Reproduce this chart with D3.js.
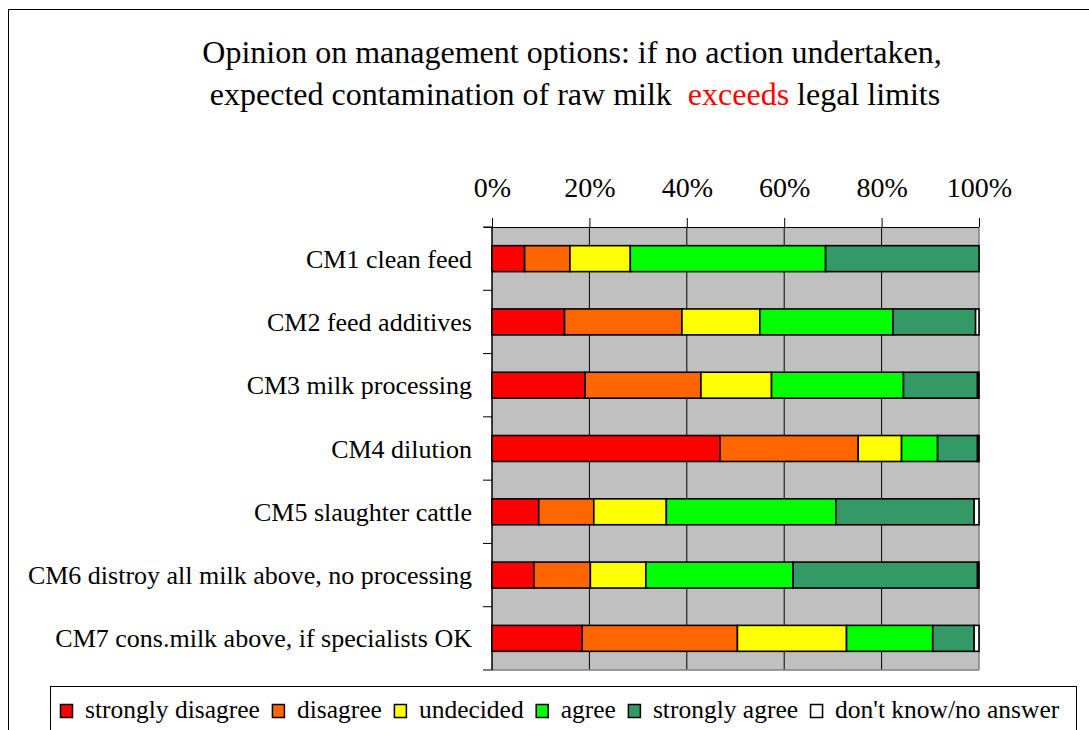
<!DOCTYPE html>
<html>
<head>
<meta charset="utf-8">
<script src="https://cdn.jsdelivr.net/npm/d3@7"></script>
<style>
  body { margin: 0; background: #fff; }
  svg { display: block; font-family: 'Liberation Serif', 'Times New Roman', serif; }
</style>
</head>
<body>
<div class="container"></div>
<script>
const w = 1089;
const h = 730;

// data, percentages
const categories = [
    'CM1 clean feed',
    'CM2 feed additives',
    'CM3 milk processing',
    'CM4 dilution',
    'CM5 slaughter cattle',
    'CM6 distroy all milk above, no processing',
    'CM7 cons.milk above, if specialists OK'
];
const seriesNames = ['strongly disagree', 'disagree', 'undecided', 'agree', 'strongly agree', "don't know/no answer"];
const seriesColors = ['#ff0000', '#ff6600', '#ffff00', '#00ff00', '#339966', '#ffffff'];
const stronglyDisagree = [6.7, 14.9, 19.1, 46.8, 9.6, 8.6, 18.5];
const disagree = [9.3, 24.1, 23.8, 28.4, 11.3, 11.6, 31.9];
const undecided = [12.4, 16.0, 14.5, 8.9, 14.9, 11.4, 22.4];
const agree = [40.1, 27.3, 27.1, 7.4, 34.8, 30.2, 17.7];
const stronglyAgree = [31.5, 17.0, 15.2, 8.2, 28.4, 37.9, 8.5];
const noAnswer = [0.0, 0.7, 0.3, 0.3, 1.0, 0.3, 1.0];
const tickValues = [0, 0.2, 0.4, 0.6, 0.8, 1];

const plot = { left: 492, right: 979, top: 227, bottom: 670 };

const svg = d3.select('.container')
    .append('svg')
    .attr('width', w)
    .attr('height', h)
    .attr('viewBox', [0, 0, w, h]);

// outer chart border (goes off the right and bottom of the picture)
svg.append('rect')
    .attr('x', 8.5).attr('y', 9.5)
    .attr('width', w + 10).attr('height', h + 10)
    .attr('fill', 'none')
    .attr('stroke', '#000');

// title
const title = svg.append('text')
    .attr('x', 572)
    .attr('text-anchor', 'middle')
    .style('font-size', '32px');
title.append('tspan').attr('x', 572).attr('y', 63)
    .text('Opinion on management options: if no action undertaken,');
const line2 = title.append('tspan').attr('x', 575).attr('y', 105);
line2.append('tspan').text('expected contamination of raw milk\u00a0\u00a0');
line2.append('tspan').attr('fill', '#ff0000').text('exceeds');
line2.append('tspan').text(' legal limits');

// build rows: each category gets cumulative stacked segments
const table = categories.map((c, i) => ({
    category: c,
    values: [stronglyDisagree[i], disagree[i], undecided[i], agree[i], stronglyAgree[i], noAnswer[i]]
}));
const stack = d3.stack()
    .keys(d3.range(seriesNames.length))
    .value((d, k) => d.values[k] / d3.sum(d.values))
    .offset(d3.stackOffsetNone);
const layers = stack(table);

const x = d3.scaleLinear().domain([0, 1]).range([plot.left, plot.right]);
const y = d3.scaleBand()
    .domain(categories)
    .range([plot.top, plot.bottom])
    .paddingInner(0.59)
    .paddingOuter(0.295);

// plot background
svg.append('rect')
    .attr('x', plot.left).attr('y', plot.top)
    .attr('width', plot.right - plot.left).attr('height', plot.bottom - plot.top)
    .attr('fill', '#c0c0c0');

// vertical gridlines
svg.append('g')
    .selectAll('line')
    .data(tickValues.slice(1, -1))
    .join('line')
    .attr('x1', d => x(d)).attr('x2', d => x(d))
    .attr('y1', plot.top).attr('y2', plot.bottom)
    .attr('stroke', '#000')
    .attr('stroke-width', 1);

// plot frame: right + bottom grey
svg.append('line')
    .attr('x1', plot.right).attr('x2', plot.right)
    .attr('y1', plot.top).attr('y2', plot.bottom)
    .attr('stroke', '#808080').attr('stroke-width', 1.5);
svg.append('line')
    .attr('x1', plot.left).attr('x2', plot.right)
    .attr('y1', plot.bottom).attr('y2', plot.bottom)
    .attr('stroke', '#808080').attr('stroke-width', 1.5);

// top axis
svg.append('g')
    .attr('transform', `translate(0, ${plot.top})`)
    .call(d3.axisTop(x)
        .tickValues(tickValues)
        .tickFormat(d3.format('.0%'))
        .tickSize(9)
        .tickPadding(21))
    .call(g => g.select('.domain').attr('stroke', '#000').attr('d', `M${plot.left - 8},0.5H${plot.right}`))
    .call(g => g.selectAll('.tick text')
        .attr('fill', '#000')
        .style('font-family', "'Liberation Serif', 'Times New Roman', serif")
        .style('font-size', '28px'));

// left axis: ticks on band boundaries
const step = y.step();
svg.append('g')
    .selectAll('line')
    .data(d3.range(categories.length + 1))
    .join('line')
    .attr('x1', plot.left - 9).attr('x2', plot.left)
    .attr('y1', i => plot.top + i * step).attr('y2', i => plot.top + i * step)
    .attr('stroke', '#000');
svg.append('line')
    .attr('x1', plot.left).attr('x2', plot.left)
    .attr('y1', plot.top).attr('y2', plot.bottom)
    .attr('stroke', '#000').attr('stroke-width', 1.5);

svg.append('g')
    .selectAll('text')
    .data(categories)
    .join('text')
    .attr('x', plot.left - 20)
    .attr('y', d => y(d) + y.bandwidth() / 2)
    .attr('dy', '0.35em')
    .attr('text-anchor', 'end')
    .style('font-size', '26px')
    .text(d => d);

// stacked bars
svg.append('g')
    .selectAll('g')
    .data(layers)
    .join('g')
    .attr('fill', d => seriesColors[d.key])
    .selectAll('rect')
    .data(d => d)
    .join('rect')
    .attr('x', d => x(d[0]))
    .attr('y', d => y(d.data.category))
    .attr('width', d => Math.max(0, x(d[1]) - x(d[0])))
    .attr('height', y.bandwidth())
    .attr('stroke', '#000')
    .attr('stroke-width', 1.6);

// legend
const legendBox = { x: 50, y: 686, w: 1026 };
svg.append('rect')
    .attr('x', legendBox.x + 0.5).attr('y', legendBox.y + 0.5)
    .attr('width', legendBox.w).attr('height', 60)
    .attr('fill', '#fff')
    .attr('stroke', '#000');

const legend = svg.append('g').style('font-size', '25.5px');
let lx = 60;
seriesNames.forEach((name, i) => {
    const item = legend.append('g');
    item.append('rect')
        .attr('x', lx + 0.5).attr('y', 704.5)
        .attr('width', 12).attr('height', 13)
        .attr('fill', seriesColors[i])
        .attr('stroke', '#000')
        .attr('stroke-width', 1.5);
    const t = item.append('text')
        .attr('x', lx + 25)
        .attr('y', 718)
        .text(name);
    lx += 25 + t.node().getComputedTextLength() + 12;
});
</script>
</body>
</html>
